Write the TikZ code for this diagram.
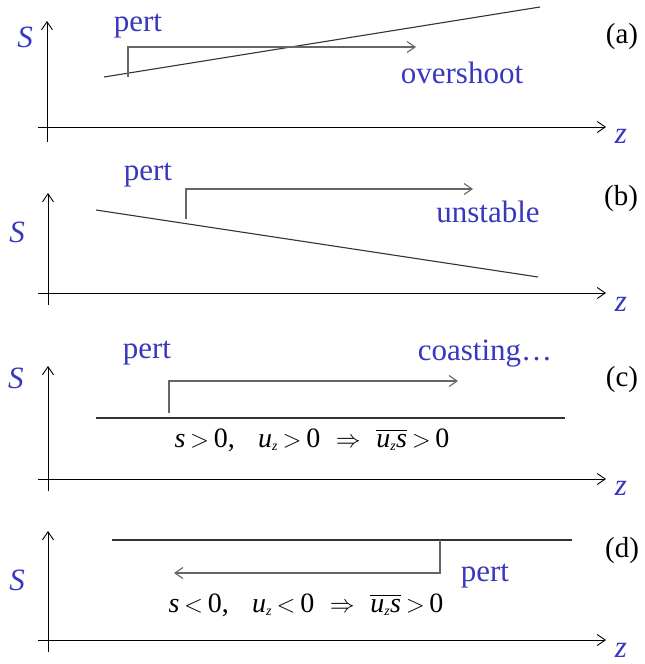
\documentclass[tikz,border=0pt]{standalone}
\usepackage{amsmath}
\usepackage{fontspec}
\setmainfont{Liberation Serif}
\usetikzlibrary{arrows.meta}
\definecolor{labblue}{RGB}{56,56,190}
\newcommand{\fluxpos}{\textit{s}\,$>$\,0,\;\;\;\textit{u}$_{\scriptscriptstyle\textit{z}}$\,$>$\,0\;\;$\Rightarrow$\;\;$\overline{\textit{u}_{\scriptscriptstyle\textit{z}}\textit{s}}$\,$>$\,0}
\newcommand{\fluxneg}{\textit{s}\,$<$\,0,\;\;\;\textit{u}$_{\scriptscriptstyle\textit{z}}$\,$<$\,0\;\;$\Rightarrow$\;\;$\overline{\textit{u}_{\scriptscriptstyle\textit{z}}\textit{s}}$\,$>$\,0}

\begin{document}
\begin{tikzpicture}[
    x=1pt, y=-1pt,
    ax/.style={-{Straight Barb[length=8pt,width=11pt]}, line width=0.9pt, black},
    prof/.style={line width=1.1pt, black!80},
    pertarr/.style={-{Straight Barb[length=8pt,width=11pt]}, line width=1.1pt, black!60},
    blu/.style={font=\fontsize{31}{34}\selectfont, text=labblue, inner sep=0pt},
    tag/.style={font=\fontsize{29}{32}\selectfont, inner sep=0pt},
    flux/.style={font=\fontsize{28}{31}\selectfont, inner sep=0pt},
]
\useasboundingbox (0,0) rectangle (645,664);

% (a) overshoot
\node[blu] (Sa) at (25,37) {\textit{S}};
\node[tag] (taga) at (622,37) {(a)};
\coordinate (Oa1) at (47,142);
\coordinate (Oa2) at (47,21);
\coordinate (Oa3) at (38,127);
\coordinate (Oa4) at (606,127);
\draw[ax] (Oa1) -- (Oa2);
\draw[ax] (Oa3) -- (Oa4);
\node[blu] (za) at (621,136) {\textit{z}};
\coordinate (pa1) at (104,77);
\coordinate (pa2) at (540,7);
\draw[prof] (pa1) -- (pa2);
\coordinate (ka1) at (128,77);
\coordinate (ka2) at (416,47);
\draw[pertarr] (ka1) |- (ka2);
\node[blu] (perta) at (138,26) {pert};
\node[blu] (overshoot) at (462,73) {overshoot};

% (b) unstable
\node[blu] (Sb) at (17,232) {\textit{S}};
\node[tag] (tagb) at (621,199) {(b)};
\coordinate (Ob1) at (48,305);
\coordinate (Ob2) at (48,193);
\coordinate (Ob3) at (38,293);
\coordinate (Ob4) at (606,293);
\draw[ax] (Ob1) -- (Ob2);
\draw[ax] (Ob3) -- (Ob4);
\node[blu] (zb) at (621,304) {\textit{z}};
\coordinate (pb1) at (96,210);
\coordinate (pb2) at (538,277);
\draw[prof] (pb1) -- (pb2);
\coordinate (kb1) at (186,219);
\coordinate (kb2) at (473,189);
\draw[pertarr] (kb1) |- (kb2);
\node[blu] (pertb) at (148,175) {pert};
\node[blu] (unstable) at (488,212) {unstable};

% (c) coasting
\node[blu] (Sc) at (16,378) {\textit{S}};
\node[tag] (tagc) at (622,380) {(c)};
\coordinate (Oc1) at (48,491);
\coordinate (Oc2) at (48,366);
\coordinate (Oc3) at (38,479);
\coordinate (Oc4) at (606,479);
\draw[ax] (Oc1) -- (Oc2);
\draw[ax] (Oc3) -- (Oc4);
\node[blu] (zc) at (621,488) {\textit{z}};
\coordinate (pc1) at (96,418);
\coordinate (pc2) at (565,418);
\draw[prof] (pc1) -- (pc2);
\coordinate (kc1) at (169,413);
\coordinate (kc2) at (458,381);
\draw[pertarr] (kc1) |- (kc2);
\node[blu] (pertc) at (147,353) {pert};
\node[blu] (coasting) at (485,354) {coasting\ldots};
\node[flux] (fluxc) at (312,440) {\fluxpos};

% (d) coasting back
\node[blu] (Sd) at (17,580) {\textit{S}};
\node[tag] (tagd) at (622,551) {(d)};
\coordinate (Od1) at (48,652);
\coordinate (Od2) at (48,531);
\coordinate (Od3) at (38,640);
\coordinate (Od4) at (606,640);
\draw[ax] (Od1) -- (Od2);
\draw[ax] (Od3) -- (Od4);
\node[blu] (zd) at (621,650) {\textit{z}};
\coordinate (pd1) at (112,540);
\coordinate (pd2) at (572,540);
\draw[prof] (pd1) -- (pd2);
\coordinate (kd1) at (440,540);
\coordinate (kd2) at (174,573);
\draw[pertarr] (kd1) |- (kd2);
\node[blu] (pertd) at (485,576) {pert};
\node[flux] (fluxd) at (306,605) {\fluxneg};
\end{tikzpicture}
\end{document}
